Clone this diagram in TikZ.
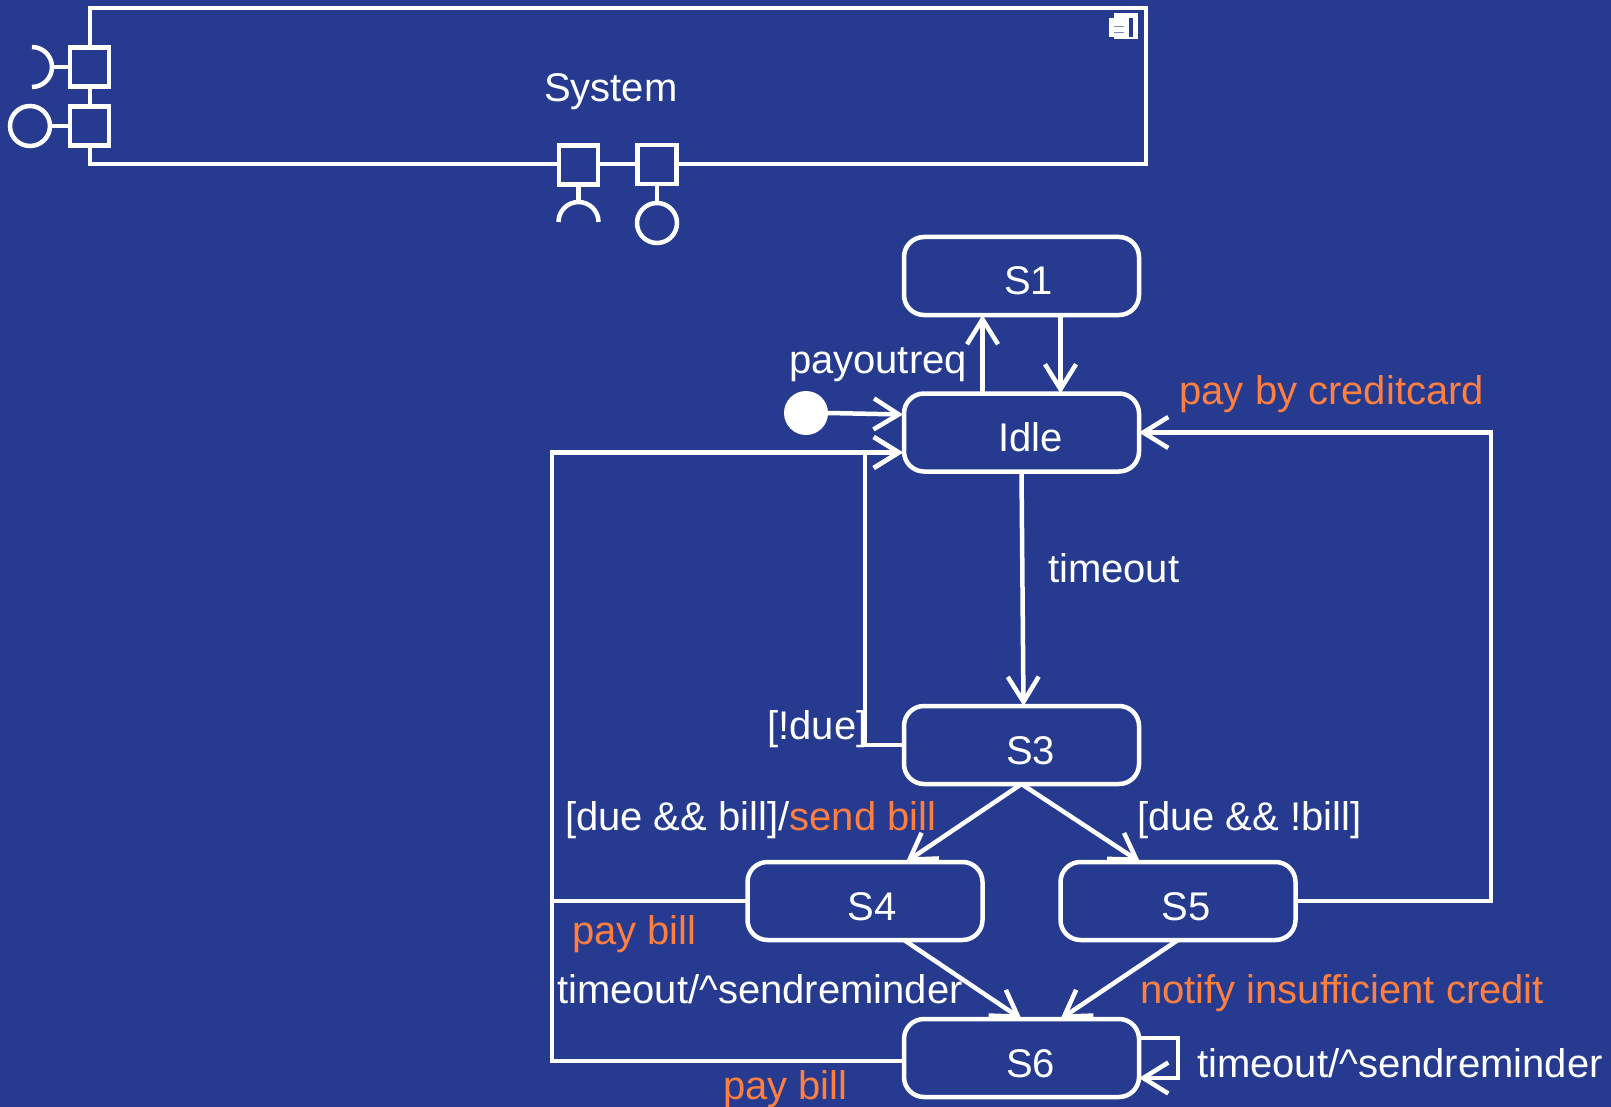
\documentclass[tikz,border=0pt]{standalone}
\usepackage{fontspec}
\setmainfont{Liberation Sans}
\usetikzlibrary{arrows.meta}
\definecolor{bg}{HTML}{263B90}
\definecolor{org}{HTML}{FF7F41}
\tikzset{
  ln/.style={draw=white,line width=4.5pt},
  arr/.style={ln,-{Straight Barb[length=25pt,width=31pt,line width=4.5pt]}},
  port/.style={ln,fill=bg,minimum width=39pt,minimum height=39pt,inner sep=0pt,outer sep=0pt},
  lolly/.style={ln,circle,minimum size=40pt,inner sep=0pt,outer sep=0pt},
  statebox/.style={ln,rounded corners=20pt,minimum width=235pt,minimum height=78pt,inner sep=0pt,outer sep=0pt,text=white,font=\fontsize{40}{44}\selectfont},
  wt/.style={anchor=base west,inner sep=0pt,outer sep=0pt,text=white,font=\fontsize{40}{44}\selectfont},
  ot/.style={wt,text=org}
}
\newcommand{\slab}[2]{\smash{\raisebox{-19pt}{\hspace*{#1pt}#2}}}
\begin{document}
\begin{tikzpicture}[x=1pt,y=-1pt]
\fill[bg] (0,0) rectangle (1611,1107);
\useasboundingbox (0,0) rectangle (1611,1107);
% System component
\node[ln,minimum width=1056pt,minimum height=156pt,inner sep=0pt,outer sep=0pt] (sys) at (618,86) {};
\node[port] (p1) at (89.5,67) {};
\node[port] (p2) at (89.5,126) {};
\node[port] (p3) at (578.5,165) {};
\node[port] (p4) at (657,164.5) {};
\node[wt] (systxt) at (544,102) {System};
\coordinate (s1c) at (52,67);
\coordinate (s3c) at (578.5,203);
\draw[ln] (p1.west) -- (s1c);
\draw[ln] (32,47) arc[start angle=90,end angle=-90,radius=20pt];
\node[lolly] (l2) at (30,126) {};
\draw[ln] (p2.west) -- (l2.east);
\draw[ln] (p3.south) -- (s3c);
\draw[ln] (558.5,222) arc[start angle=180,end angle=0,radius=20pt];
\node[lolly] (l4) at (657,223) {};
\draw[ln] (p4.south) -- (l4.north);
% component icon
\fill[white] (1114,13) rectangle (1138,39);
\fill[white] (1109,18) rectangle (1116,37);
\fill[bg] (1129,18) rectangle (1133,37);
\fill[bg!60!white] (1114,26) rectangle (1124,27.5);
\fill[bg!60!white] (1114,32) rectangle (1124,33.5);
% states
\node[statebox] (S1) at (1021.5,276) {\slab{14}{S1}};
\node[statebox] (Idle) at (1021.5,432.5) {\slab{18}{Idle}};
\node[statebox] (S3) at (1021.5,745) {\slab{18}{S3}};
\node[statebox] (S4) at (865,901) {\slab{14}{S4}};
\node[statebox] (S5) at (1178,901) {\slab{16}{S5}};
\node[statebox] (S6) at (1021.5,1058) {\slab{18}{S6}};
\node[circle,fill=white,minimum size=44pt,inner sep=0pt,outer sep=0pt] (init) at (806,413) {};
% connectors
\draw[arr] ([xshift=-39pt]Idle.north) -- ([xshift=-39pt]S1.south);
\draw[arr] ([xshift=39pt]S1.south) -- ([xshift=39pt]Idle.north);
\draw[arr] (init.east) -- ([yshift=18pt,xshift=-1pt]Idle.west);
\draw[arr] (Idle.south) -- ([xshift=2pt]S3.north);
\draw[arr] (S3.west) -- ++(-39,0) |- ([yshift=-20pt,xshift=-1pt]Idle.west);
\draw[arr] ([yshift=-3pt]S6.west) -| (552,452.5) -- ([yshift=-20pt,xshift=-1pt]Idle.west);
\draw[ln] (S4.west) -- (552,901);
\draw[arr] (S3.south) -- ([xshift=41pt]S4.north);
\draw[arr] (S3.south) -- ([xshift=-38pt]S5.north);
\draw[arr] ([xshift=39pt]S4.south) -- (S6.north);
\draw[arr] (S5.south) -- ([xshift=39pt]S6.north);
\draw[arr] (S5.east) -- (1491,901) |- (Idle.east);
\draw[arr] ([yshift=20pt]S6.east) -- ++(39,0) |- ([yshift=-20pt]S6.east);
% labels
\node[wt] (t1) at (789,373) {payoutreq};
\node[ot] (t2) at (1179.5,404) {pay by creditcard};
\node[wt] (t3) at (1048,582.5) {timeout};
\node[wt] (t4) at (767.5,739) {[!due]};
\node[wt] (t5) at (565,830) {[due \&\& bill]/\textcolor{org}{send bill}};
\node[wt] (t6) at (1137,830) {[due \&\& !bill]};
\node[ot] (t7) at (572,944) {pay bill};
\node[wt] (t8) at (557,1003) {timeout/\textasciicircum sendreminder};
\node[ot] (t9) at (1140,1003) {notify insufficient credit};
\node[wt] (t10) at (1197,1077) {timeout/\textasciicircum sendreminder};
\node[ot] (t11) at (723,1099) {pay bill};
\end{tikzpicture}
\end{document}
